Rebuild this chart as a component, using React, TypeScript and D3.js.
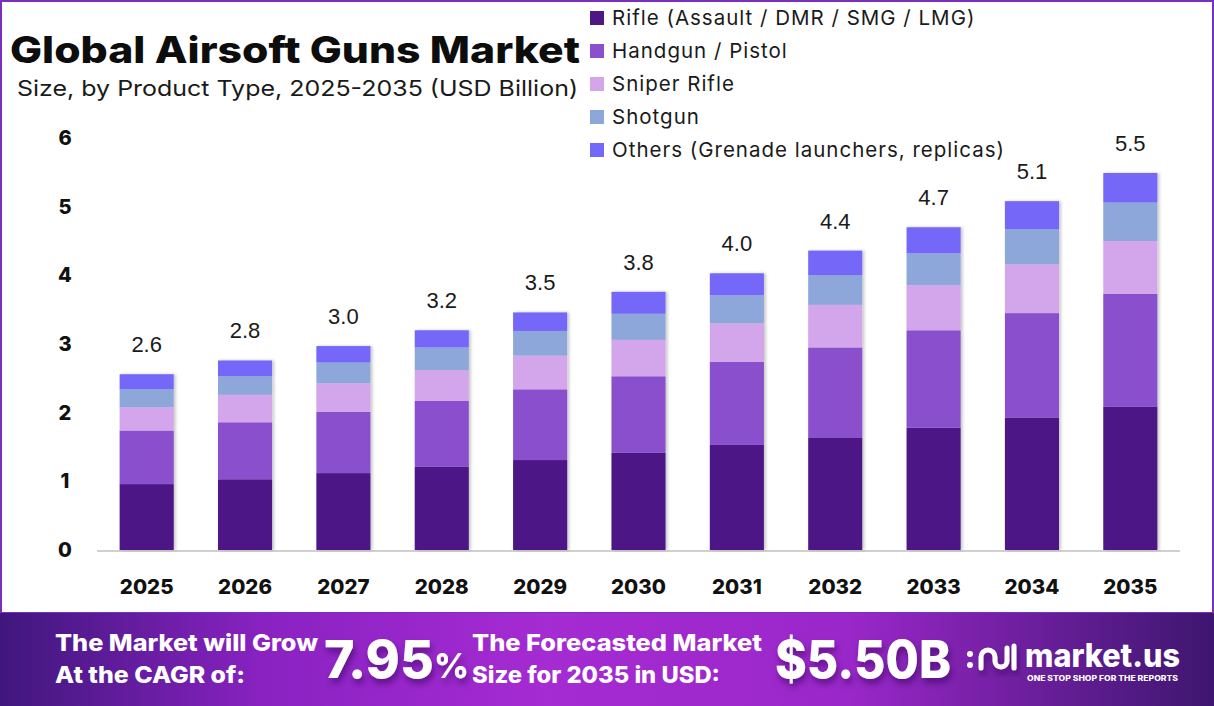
import React from "react";
import * as d3 from "d3";

// Market size by product type, USD billion
const years = ["2025", "2026", "2027", "2028", "2029", "2030", "2031", "2032", "2033", "2034", "2035"];
const rifle = [0.96, 1.03, 1.12, 1.21, 1.31, 1.42, 1.53, 1.64, 1.78, 1.93, 2.09];
const handgun = [0.78, 0.83, 0.89, 0.96, 1.03, 1.11, 1.21, 1.31, 1.42, 1.52, 1.64];
const sniper = [0.34, 0.4, 0.42, 0.45, 0.49, 0.53, 0.56, 0.62, 0.66, 0.71, 0.77];
const shotgun = [0.26, 0.27, 0.3, 0.33, 0.36, 0.38, 0.41, 0.43, 0.46, 0.51, 0.56];
const others = [0.22, 0.23, 0.24, 0.25, 0.27, 0.32, 0.32, 0.36, 0.38, 0.41, 0.43];
const seriesNames = [
  "Rifle (Assault / DMR / SMG / LMG)",
  "Handgun / Pistol",
  "Sniper Rifle",
  "Shotgun",
  "Others (Grenade launchers, replicas)",
];
const seriesColors = ["#4e1786", "#8a4fcc", "#d3a5ea", "#8ea7da", "#7468f8"];
const yTicks = [0, 1, 2, 3, 4, 5, 6];
const cagrText = "7.95%";
const forecastText = "$5.50B";

const W = 1214;
const H = 706;

export default function App() {
  const keys = ["rifle", "handgun", "sniper", "shotgun", "others"];
  const cols = [rifle, handgun, sniper, shotgun, others];
  const rows = years.map((y, i) => {
    const r: any = { year: y };
    keys.forEach((k, j) => (r[k] = cols[j][i]));
    return r;
  });
  const stacked = d3.stack().keys(keys)(rows as any);
  const totals = rows.map((r) => d3.sum(keys, (k) => r[k]));

  const x = d3
    .scaleBand<string>()
    .domain(years)
    .range([97, 1180])
    .paddingInner(0.45)
    .paddingOuter(0.23);
  const y = d3.scaleLinear().domain([0, 6]).range([550, 138]);
  const fmt = d3.format(".1f");

  const sans = "Inter, 'Noto Sans', sans-serif";

  return (
    <div style={{ position: "absolute", left: 0, top: 0 }}>
      <svg width={W} height={H} viewBox={`0 0 ${W} ${H}`} style={{ display: "block" }}>
        <defs>
          <linearGradient id="footerGrad" x1="0" x2="1" y1="0" y2="0">
            <stop offset="0" stopColor="#3f177c" />
            <stop offset="0.22" stopColor="#8a22c2" />
            <stop offset="0.45" stopColor="#a52bd2" />
            <stop offset="0.7" stopColor="#9a27c9" />
            <stop offset="1" stopColor="#3d166f" />
          </linearGradient>
          <filter id="barShadow" x="-20%" y="-10%" width="150%" height="120%">
            <feDropShadow dx="2" dy="0" stdDeviation="1.5" floodColor="#000" floodOpacity="0.22" />
          </filter>
          <filter id="textShadow" x="-10%" y="-20%" width="130%" height="160%">
            <feDropShadow dx="2" dy="5" stdDeviation="3" floodColor="#2a0050" floodOpacity="0.5" />
          </filter>
        </defs>

        <rect x={0} y={0} width={W} height={H} fill="#ffffff" />
        <rect x={1} y={1} width={W - 2} height={612} fill="none" stroke="#7a2fbe" strokeWidth={2} />

        {/* Title */}
        <text x={10} y={63} fontFamily={sans} fontWeight={800} fontSize={37} fill="#0d0d0d" textLength={570} lengthAdjust="spacingAndGlyphs">
          Global Airsoft Guns Market
        </text>
        <text x={17} y={96} fontFamily={sans} fontWeight={400} fontSize={22} fill="#1a1a1a" textLength={561} lengthAdjust="spacingAndGlyphs">
          Size, by Product Type, 2025-2035 (USD Billion)
        </text>

        {/* Legend */}
        {seriesNames.map((name, i) => (
          <g key={name} transform={`translate(590, ${18 + i * 33})`}>
            <rect x={0} y={-7} width={14} height={14} fill={seriesColors[i]} />
            <text x={22} y={7} fontFamily={sans} fontSize={20.5} letterSpacing={1} fill="#1a1a1a">
              {name}
            </text>
          </g>
        ))}

        {/* Y axis labels */}
        {yTicks.map((t) => (
          <text key={t} x={65} y={y(t) + 7} textAnchor="middle" fontFamily={sans} fontWeight={800} fontSize={20} fill="#111">
            {t}
          </text>
        ))}

        {/* Baseline */}
        <line x1={97} x2={1180} y1={551} y2={551} stroke="#d0d0d0" strokeWidth={2} />

        {/* Stacked bars */}
        {years.map((yr, i) => (
          <g key={yr} filter="url(#barShadow)">
            {stacked.map((s, j) => (
              <rect
                key={keys[j]}
                x={x(yr)}
                y={y(s[i][1])}
                width={x.bandwidth()}
                height={y(s[i][0]) - y(s[i][1])}
                fill={seriesColors[j]}
              />
            ))}
          </g>
        ))}

        {/* Totals */}
        {years.map((yr, i) => (
          <text
            key={yr}
            x={(x(yr) as number) + x.bandwidth() / 2}
            y={y(totals[i]) - 22}
            textAnchor="middle"
            fontFamily="'Liberation Sans', Arial, sans-serif"
            fontSize={22}
            fill="#1a1a1a"
          >
            {fmt(totals[i])}
          </text>
        ))}

        {/* X labels */}
        {years.map((yr) => (
          <text
            key={yr}
            x={(x(yr) as number) + x.bandwidth() / 2}
            y={594}
            textAnchor="middle"
            fontFamily={sans}
            fontWeight={800}
            fontSize={20.5}
            fill="#111"
          >
            {yr}
          </text>
        ))}

        {/* Footer band */}
        <rect x={0} y={613} width={W} height={H - 613} fill="url(#footerGrad)" />
        <g fontFamily={sans} fontWeight={800} fill="#ffffff">
          <text x={55} y={651} fontSize={23} textLength={263} lengthAdjust="spacingAndGlyphs">The Market will Grow</text>
          <text x={55} y={683} fontSize={23} textLength={190} lengthAdjust="spacingAndGlyphs">At the CAGR of:</text>
          <g filter="url(#textShadow)">
            <text x={324} y={678} fontSize={52}>
              {cagrText.slice(0, -1)}
              <tspan fontSize={34}>%</tspan>
            </text>
          </g>
          <text x={472} y={651} fontSize={23} textLength={290} lengthAdjust="spacingAndGlyphs">The Forecasted Market</text>
          <text x={472} y={683} fontSize={23} textLength={248} lengthAdjust="spacingAndGlyphs">Size for 2035 in USD:</text>
          <g filter="url(#textShadow)">
            <text x={775} y={678} fontSize={52} textLength={176} lengthAdjust="spacingAndGlyphs">{forecastText}</text>
          </g>

          {/* Logo */}
          <g filter="url(#textShadow)" stroke="#ffffff" strokeWidth={5} strokeLinecap="round" fill="none">
            <path d="M981,668 V657 a7,7 0 0 1 14,0 V661 a6,6 0 0 0 12,0 V648" />
            <path d="M1014,646 V668" />
          </g>
          <circle cx={970} cy={654} r={3} />
          <circle cx={970} cy={665} r={3} />
          <text x={1025} y={667} fontSize={32} textLength={155} lengthAdjust="spacingAndGlyphs">market.us</text>
          <text x={1027} y={681} fontSize={7.5} textLength={151} lengthAdjust="spacingAndGlyphs">ONE STOP SHOP FOR THE REPORTS</text>
        </g>
      </svg>
    </div>
  );
}
